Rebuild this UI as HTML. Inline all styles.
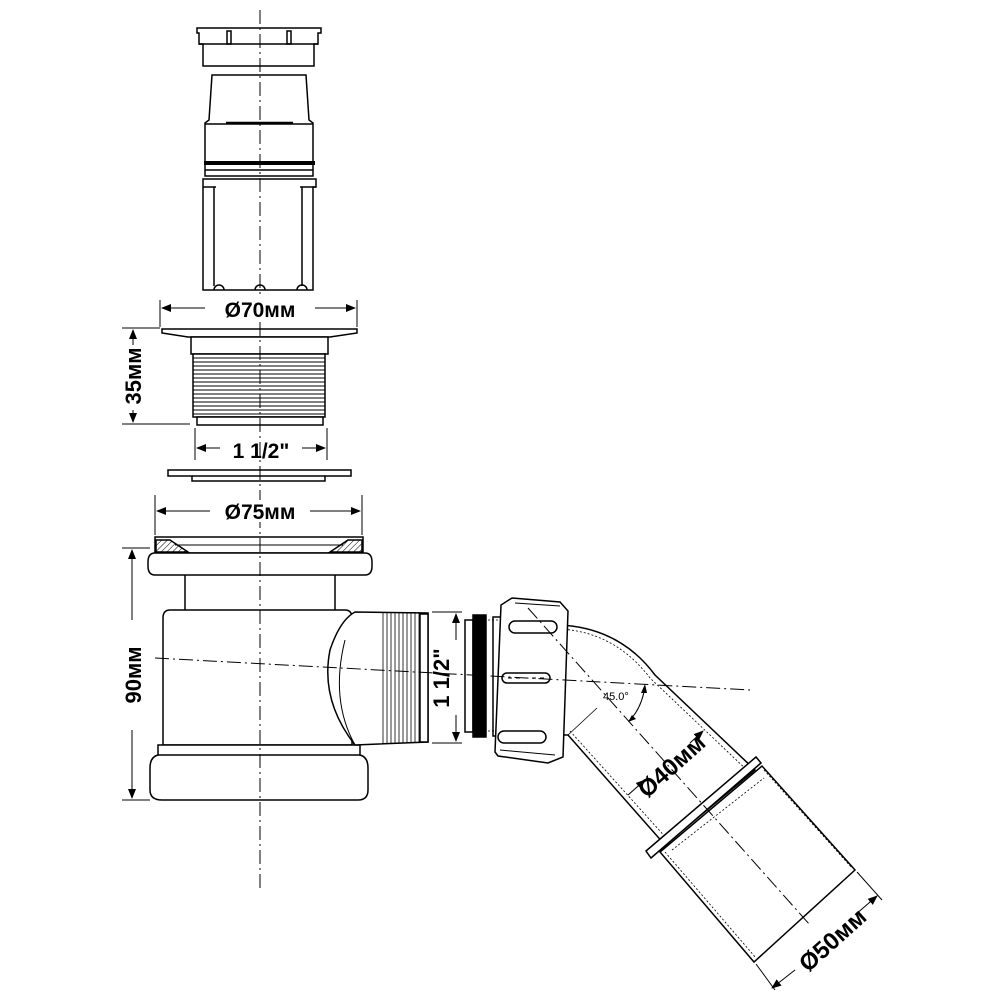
<!DOCTYPE html>
<html><head><meta charset="utf-8"><style>
html,body{margin:0;padding:0;background:#fff;}
svg{display:block;}
text{font-family:"Liberation Sans",sans-serif;font-weight:bold;fill:#000;}
</style></head><body>
<svg width="1000" height="1000" viewBox="0 0 1000 1000" xmlns="http://www.w3.org/2000/svg">
<defs>
<marker id="ar" markerWidth="10" markerHeight="8" refX="9" refY="4" orient="auto" markerUnits="userSpaceOnUse"><path d="M0,0 L10,4 L0,8 z" fill="#000"/></marker>
<pattern id="hatch" width="4" height="4" patternUnits="userSpaceOnUse" patternTransform="rotate(45)"><line x1="0" y1="0" x2="0" y2="4" stroke="#000" stroke-width="1"/></pattern>
</defs>
<g fill="none" stroke="#000" stroke-width="1.5">
<!-- top cap -->
<path d="M197,28 L321,28 L321,33 L318,33 L318,44 L314,44 L314,66 L203,66 L203,44 L199,44 L199,33 L197,33 Z" fill="#fff"/>
<line x1="199" y1="44" x2="318" y2="44"/>
<rect x="227" y="31" width="4" height="13"/><rect x="287" y="31" width="4" height="13"/>
<!-- strainer body -->
<path d="M212,75 L306,75 L309,120 L313,123 L313,176 L205,176 L205,123 L209,120 Z" fill="#fff"/>
<line x1="205" y1="124" x2="313" y2="124"/>
<line x1="226" y1="123" x2="293" y2="123" stroke-width="2.5"/>
<line x1="204" y1="163" x2="315" y2="163" stroke-width="4"/>
<line x1="205" y1="170" x2="313" y2="170"/>
<path d="M203,179 L316,179 L316,187 L313,187 L313,290 L203,290 L203,187 Z" fill="#fff"/>
<line x1="214" y1="187" x2="214" y2="286"/><line x1="302" y1="187" x2="302" y2="286"/>
<line x1="203" y1="187" x2="216" y2="187"/><line x1="300" y1="187" x2="316" y2="187"/>
<path d="M214,290 a5,5 0 0 1 10,0 M255,290 a5,5 0 0 1 10,0 M297,290 a5,5 0 0 1 10,0"/>

<!-- dim 70 -->
<line x1="160" y1="300" x2="160" y2="327" stroke-width="1"/><line x1="357" y1="300" x2="357" y2="327" stroke-width="1"/>
<line x1="205" y1="308" x2="162" y2="308" stroke-width="1" marker-end="url(#ar)"/>
<line x1="315" y1="308" x2="355" y2="308" stroke-width="1" marker-end="url(#ar)"/>
<!-- flange 1 -->
<path d="M162,329 L357,329 L357,333 L330,337 L188,337 L162,333 Z" fill="#fff"/>
<rect x="191" y="337" width="137" height="17" fill="#fff"/>
<rect x="193" y="354" width="132" height="63" fill="#fff"/>
<g stroke-width="0.9">
<line x1="193" y1="358" x2="325" y2="358"/><line x1="193" y1="362" x2="325" y2="362"/><line x1="193" y1="366" x2="325" y2="366"/><line x1="193" y1="370" x2="325" y2="370"/><line x1="193" y1="374" x2="325" y2="374"/><line x1="193" y1="378" x2="325" y2="378"/><line x1="193" y1="382" x2="325" y2="382"/><line x1="193" y1="386" x2="325" y2="386"/><line x1="193" y1="390" x2="325" y2="390"/><line x1="193" y1="394" x2="325" y2="394"/><line x1="193" y1="398" x2="325" y2="398"/><line x1="193" y1="402" x2="325" y2="402"/><line x1="193" y1="406" x2="325" y2="406"/><line x1="193" y1="410" x2="325" y2="410"/><line x1="193" y1="414" x2="325" y2="414"/>
</g>
<rect x="197" y="417" width="126" height="8" fill="#fff"/>
<!-- dim 35 -->
<line x1="122" y1="328" x2="160" y2="328" stroke-width="1"/><line x1="122" y1="424" x2="190" y2="424" stroke-width="1"/>
<line x1="133" y1="345" x2="133" y2="330" stroke-width="1" marker-end="url(#ar)"/>
<line x1="133" y1="410" x2="133" y2="422" stroke-width="1" marker-end="url(#ar)"/>
<!-- dim 1 1/2 -->
<line x1="195" y1="428" x2="195" y2="460" stroke-width="1"/><line x1="327" y1="428" x2="327" y2="460" stroke-width="1"/>
<line x1="220" y1="448" x2="197" y2="448" stroke-width="1" marker-end="url(#ar)"/>
<line x1="302" y1="448" x2="325" y2="448" stroke-width="1" marker-end="url(#ar)"/>
<!-- washer -->
<path d="M168,470 L351,470 L351,476 L325,476 L325,481 L192,481 L192,476 L168,476 Z" fill="#fff"/>
<line x1="192" y1="476" x2="325" y2="476"/>
<!-- dim 75 -->
<line x1="155" y1="495" x2="155" y2="535" stroke-width="1"/><line x1="362" y1="495" x2="362" y2="535" stroke-width="1"/>
<line x1="210" y1="511" x2="157" y2="511" stroke-width="1" marker-end="url(#ar)"/>
<line x1="310" y1="511" x2="360" y2="511" stroke-width="1" marker-end="url(#ar)"/>

<!-- main body -->
<rect x="155" y="537" width="208" height="16" fill="#fff"/>
<path d="M156,540 L170,540 L188,552 L156,552 Z" fill="url(#hatch)"/>
<path d="M362,540 L348,540 L330,552 L362,552 Z" fill="url(#hatch)"/>
<line x1="175" y1="545" x2="343" y2="545" stroke-width="1"/>
<path d="M155,553 L365,553 Q372,553 372,562 L372,566 Q372,575 365,575 L155,575 Q148,575 148,566 L148,562 Q148,553 155,553 Z" fill="#fff"/>
<line x1="185" y1="575" x2="185" y2="610"/><line x1="335" y1="575" x2="335" y2="610"/>
<path d="M178,610 L345,610 Q352,610 352,618 L352,745 L163,745 L163,618 Q163,610 170,610 Z" fill="#fff"/>
<path d="M158,745 L360,745 L360,755 Q368,757 368,768 L368,790 Q368,800 358,800 L162,800 Q150,800 150,790 L150,768 Q150,757 158,755 Z" fill="#fff"/>
<line x1="158" y1="755" x2="360" y2="755"/>
<!-- side outlet -->
<path d="M355,612 L428,613 L428,742 L355,745 Q320,700 330,650 Q340,620 355,612 Z" fill="#fff"/>
<path d="M345,640 Q330,700 355,745" stroke-width="1"/>
<g stroke-width="0.8">
<line x1="383" y1="612" x2="383" y2="743"/><line x1="387" y1="612" x2="387" y2="743"/><line x1="391" y1="612" x2="391" y2="743"/><line x1="395" y1="612" x2="395" y2="743"/><line x1="399" y1="612" x2="399" y2="743"/><line x1="403" y1="612" x2="403" y2="743"/><line x1="407" y1="612" x2="407" y2="743"/><line x1="411" y1="612" x2="411" y2="743"/><line x1="415" y1="612" x2="415" y2="743"/><line x1="419" y1="612" x2="419" y2="743"/>
</g>
<rect x="420" y="614" width="8" height="128" fill="#fff"/>
<!-- dim 1 1/2 vertical -->
<line x1="432" y1="612" x2="462" y2="612" stroke-width="1"/><line x1="432" y1="743" x2="462" y2="743" stroke-width="1"/>
<line x1="456" y1="640" x2="456" y2="614" stroke-width="1" marker-end="url(#ar)"/>
<line x1="456" y1="715" x2="456" y2="741" stroke-width="1" marker-end="url(#ar)"/>
<!-- gaskets -->
<rect x="465" y="620" width="8" height="112" fill="#fff"/>
<rect x="473" y="615" width="13" height="122" fill="#000"/>
<rect x="493" y="617" width="8" height="119" fill="#fff"/>
<!-- elbow pipe -->
<path d="M560,625 Q620,628 655,675 L755,770 L665,845 L568,735 L505,735 L505,625 Z" fill="#fff"/>
<path d="M560,629 Q615,632 650,678 L750,773" stroke-width="0.8" stroke-dasharray="2,2"/>
<path d="M570,731 L668,840" stroke-width="0.8" stroke-dasharray="2,2"/>
<line x1="480" y1="620" x2="510" y2="620" stroke-width="0.8" stroke-dasharray="2,2"/>
<line x1="480" y1="731" x2="510" y2="731" stroke-width="0.8" stroke-dasharray="2,2"/>
<!-- nut -->
<path d="M512,598 L560,602 L568,611 L563,757 L548,763 L498,756 L495,752 L501,605 Z" fill="#fff"/>
<line x1="515" y1="603" x2="560" y2="606" stroke-width="1"/>
<line x1="500" y1="750" x2="555" y2="755" stroke-width="1"/>
<rect x="509" y="621" width="48" height="12" rx="6" fill="#fff"/>
<rect x="502" y="673" width="48" height="10" rx="5" fill="#fff"/>
<line x1="508" y1="678" x2="545" y2="678" stroke-width="1" stroke-dasharray="4,4"/>
<rect x="498" y="731" width="48" height="12" rx="6" fill="#fff"/>
<!-- 45 angle -->
<line x1="568" y1="735" x2="597" y2="708" stroke-width="0.8"/>
<path d="M645,686 Q642,708 629,721" stroke-width="1"/>
<path d="M645,684 l-4,9 l6,0 z M628,722 l8,-3 l-4,-4 z" fill="#000" stroke="none"/>
<!-- dim 40 -->
<line x1="628" y1="795" x2="645" y2="780" stroke-width="1" marker-end="url(#ar)"/>
<line x1="690" y1="743" x2="703" y2="731" stroke-width="1" marker-end="url(#ar)"/>
<!-- big pipe -->
<path d="M660,852 L762,766 L855,870 L754,962 Z" fill="#fff"/>
<path d="M672,850 L764,778" stroke-width="0.8" stroke-dasharray="2,2"/>
<path d="M665,852 L756,958" stroke-width="0.8" stroke-dasharray="2,2"/>
<path d="M764,770 L852,868" stroke-width="0.8" stroke-dasharray="2,2"/>
<path d="M646,851 L756,757 L761,763 L651,858 Z" fill="#fff"/>
<!-- dim 50 -->
<line x1="756" y1="964" x2="775" y2="990" stroke-width="1"/><line x1="857" y1="872" x2="882" y2="900" stroke-width="1"/>
<line x1="795" y1="970" x2="772" y2="988" stroke-width="1" marker-end="url(#ar)"/>
<line x1="855" y1="915" x2="877" y2="896" stroke-width="1" marker-end="url(#ar)"/>
<!-- dim 90 -->
<line x1="122" y1="548" x2="150" y2="548" stroke-width="1"/><line x1="122" y1="800" x2="150" y2="800" stroke-width="1"/>
<line x1="132" y1="620" x2="132" y2="550" stroke-width="1" marker-end="url(#ar)"/>
<line x1="132" y1="730" x2="132" y2="798" stroke-width="1" marker-end="url(#ar)"/>
<!-- center lines on top -->
<line x1="260" y1="10" x2="260" y2="890" stroke-width="1" stroke-dasharray="14,4,2,4"/>
<line x1="155" y1="658" x2="750" y2="690" stroke-width="1" stroke-dasharray="14,4,2,4"/>
<line x1="528" y1="608" x2="810" y2="925" stroke-width="1" stroke-dasharray="14,4,2,4"/>
</g>
<rect x="225" y="298" width="70" height="22" fill="#fff"/>
<rect x="225" y="500" width="70" height="22" fill="#fff"/>
<text x="260" y="317" font-size="21" text-anchor="middle">Ø70мм</text>
<text x="261" y="458" font-size="21" text-anchor="middle">1 1/2"</text>
<text x="260" y="519" font-size="21" text-anchor="middle">Ø75мм</text>
<text transform="translate(141,376) rotate(-90)" font-size="22" text-anchor="middle">35мм</text>
<text transform="translate(141,675) rotate(-90)" font-size="22" text-anchor="middle">90мм</text>
<text transform="translate(449,678) rotate(-90)" font-size="22" text-anchor="middle">1 1/2"</text>
<text x="603" y="700" font-size="11" style="font-weight:normal">45.0°</text>
<text transform="translate(677,772) rotate(-42)" font-size="24" text-anchor="middle">Ø40мм</text>
<text transform="translate(838,946) rotate(-42)" font-size="24" text-anchor="middle">Ø50мм</text>
</svg>
</body></html>
